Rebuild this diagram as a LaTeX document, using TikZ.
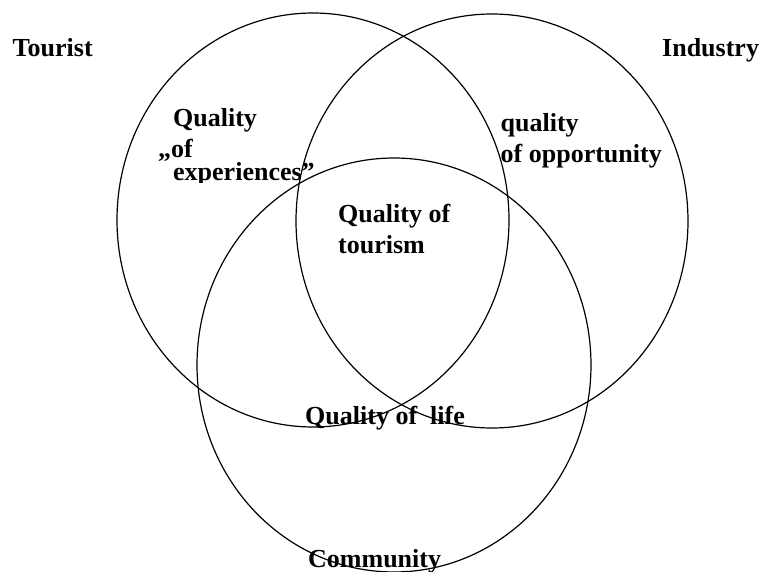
\documentclass[tikz,border=0pt]{standalone}
\usepackage{fontspec}
\setmainfont{Liberation Serif}
\begin{document}
\begin{tikzpicture}[x=1pt,y=-1pt,
  ring/.style={draw=black,line width=1.2pt},
  lbl/.style={anchor=base west,inner sep=0pt,font=\fontsize{26}{28}\selectfont\bfseries}]
\useasboundingbox (0,0) rectangle (763,572);
\draw[ring] (313,220) ellipse [x radius=196, y radius=207];
\draw[ring] (492,221) ellipse [x radius=196, y radius=207];
\draw[ring] (394,365) ellipse [x radius=197, y radius=207];
\node[lbl] (tourist) at (12.5,57) {Tourist};
\node[lbl] (industry) at (662,57) {Industry};
\node[lbl] (q1) at (173,127) {Quality};
\node[lbl] (q2) at (158,158) {„of};
\begin{scope}
\clip (150,150) rectangle (340,183);
\node[lbl] (q3) at (173,181) {experiences”};
\end{scope}
\node[lbl] (t1) at (338,223) {Quality of};
\node[lbl] (t2) at (338,253) {tourism};
\node[lbl] (o1) at (500.5,132) {quality};
\node[lbl] (o2) at (500.5,163) {of opportunity};
\node[lbl] (life) at (305,424) {Quality of\ \ life};
\node[lbl] (comm) at (308,567) {Community};
\end{tikzpicture}
\end{document}
